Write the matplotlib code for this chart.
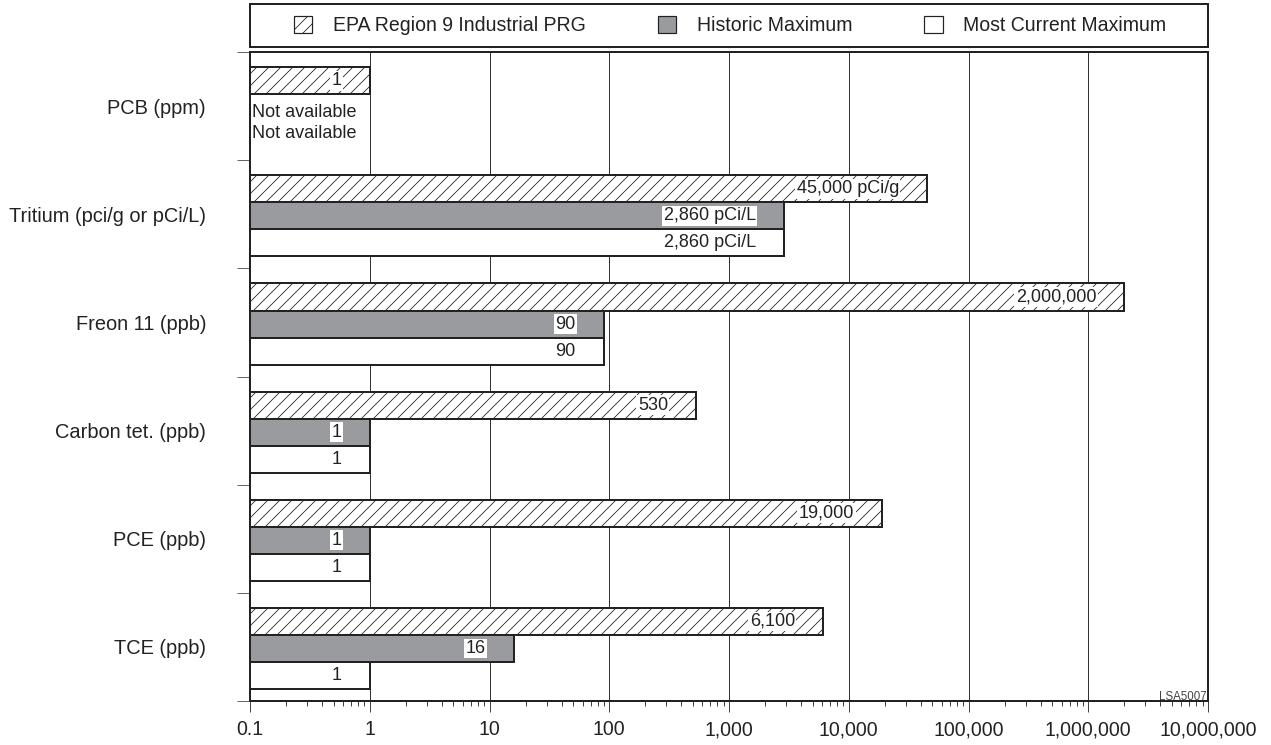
import matplotlib
matplotlib.use("Agg")
import matplotlib.pyplot as plt
from matplotlib.patches import Rectangle, Patch

plt.rcParams['font.family'] = ['Liberation Sans', 'DejaVu Sans']
plt.rcParams['hatch.linewidth'] = 0.8

categories = ["PCB (ppm)", "Tritium (pci/g or pCi/L)", "Freon 11 (ppb)",
              "Carbon tet. (ppb)", "PCE (ppb)", "TCE (ppb)"]
prg = [1, 45000, 2000000, 530, 19000, 6100]
historic = [None, 2860, 90, 1, 1, 16]
current = [None, 2860, 90, 1, 1, 1]
prg_labels = ["1", "45,000 pCi/g", "2,000,000", "530", "19,000", "6,100"]
hist_labels = ["Not available", "2,860 pCi/L", "90", "1", "1", "16"]
curr_labels = ["Not available", "2,860 pCi/L", "90", "1", "1", "1"]
xticks = [0.1, 1, 10, 100, 1000, 10000, 100000, 1000000, 10000000]
xticklabels = ["0.1", "1", "10", "100", "1,000", "10,000", "100,000", "1,000,000", "10,000,000"]

W, H = 1271, 745
DPI = 72
fig = plt.figure(figsize=(W / DPI, H / DPI), dpi=DPI)
AX_L, AX_R, AX_T, AX_B = 250, 1208, 52, 701
ax = fig.add_axes([AX_L / W, 1 - AX_B / H, (AX_R - AX_L) / W, (AX_B - AX_T) / H])

TXT = "#222222"
GRAY = "#9a9b9f"
EDGE = "#222222"
BASE = 0.1
bh = 0.25
off = 0.14
na_pos = [0.555, 0.75]
series = [(prg, prg_labels, dict(facecolor="white", hatch="//")),
          (historic, hist_labels, dict(facecolor=GRAY)),
          (current, curr_labels, dict(facecolor="white"))]

for s, (vals, labs, style) in enumerate(series):
    for i, (v, lab) in enumerate(zip(vals, labs)):
        yc = i + off + bh * (s + 0.5)
        if v is None:
            ax.text(0.104, i + na_pos[s - 1], lab, ha="left", va="center",
                    fontsize=18, color=TXT)
            continue
        ax.barh(yc, v - BASE, left=BASE, height=bh, edgecolor=EDGE, linewidth=2,
                zorder=3, **style)
        ax.annotate(lab, xy=(v, yc), xytext=(-28, 0), textcoords="offset points",
                    ha="right", va="center", fontsize=18, color=TXT, zorder=5,
                    bbox=dict(facecolor="white", edgecolor="none", pad=1.5))

ax.set_xscale("log")
ax.set_xlim(0.1, 1e7)
ax.set_ylim(6, 0)
ax.set_xticks(xticks)
ax.set_xticklabels(xticklabels, fontsize=19.5, color=TXT)
ax.tick_params(axis="x", which="major", length=11, width=1, color="#444444", pad=8)
ax.tick_params(axis="x", which="minor", length=5, width=1, color="#444444")
ax.set_yticks(range(7))
ax.set_yticklabels([])
ax.set_yticks([i + 0.5 for i in range(6)], minor=True)
ax.set_yticklabels(categories, minor=True, fontsize=20, color=TXT)
ax.tick_params(axis="y", which="major", length=13, width=1, color="#666666")
ax.tick_params(axis="y", which="minor", length=0, pad=44)
ax.grid(axis="x", which="major", color="#333333", linewidth=1, zorder=0)
for sp in ax.spines.values():
    sp.set_linewidth(2)
    sp.set_color("#222222")

ax.annotate("LSA5007", xy=(1e7, 6.0), xytext=(-1, 4), textcoords="offset points",
            ha="right", va="center", fontsize=11.5, color="#444444", zorder=6)

# legend box
fig.patches.append(Rectangle((AX_L / W, 1 - 47 / H), (AX_R - AX_L) / W, 43 / H,
                             transform=fig.transFigure, facecolor="white",
                             edgecolor="#222222", linewidth=2))
handles = [Patch(facecolor="white", edgecolor=EDGE, hatch="//", linewidth=1.2),
           Patch(facecolor=GRAY, edgecolor=EDGE, linewidth=1.2),
           Patch(facecolor="white", edgecolor=EDGE, linewidth=1.2)]
fig.legend(handles, ["EPA Region 9 Industrial PRG", "Historic Maximum", "Most Current Maximum"],
           loc="center", bbox_to_anchor=(730 / W, 1 - 25.5 / H), ncol=3, frameon=False,
           fontsize=19.5, handlelength=0.95, handleheight=0.95, handletextpad=1.05,
           columnspacing=3.7, labelcolor=TXT)

fig.savefig("out.png", dpi=DPI)
